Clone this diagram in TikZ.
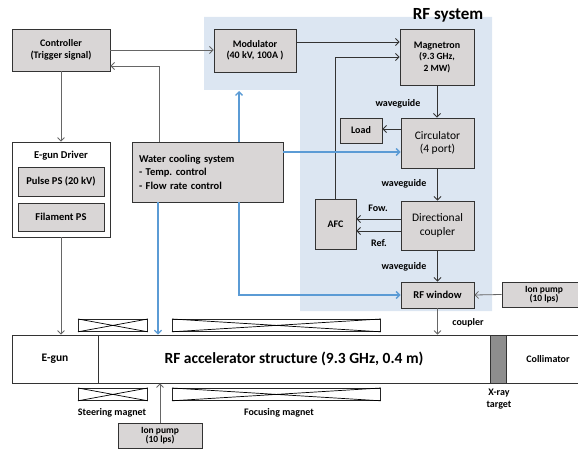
\documentclass[tikz,border=0pt]{standalone}
\usepackage{fontspec}
\setmainfont{Carlito}
\usetikzlibrary{arrows.meta}
\frenchspacing

\definecolor{boxgray}{HTML}{D9D6D6}
\definecolor{rfblue}{HTML}{DCE6F2}
\definecolor{coolblue}{HTML}{5B9BD5}
\definecolor{lineg}{HTML}{666666}
\definecolor{targetg}{HTML}{8E8E8E}

\tikzset{
  blk/.style 2 args={draw=black!80, fill=boxgray, line width=0.9pt, inner sep=1pt,
    align=center, minimum width=#1pt, minimum height=#2pt,
    font=\bfseries\fontsize{10}{11.5}\selectfont},
  wht/.style 2 args={draw=black!80, fill=white, line width=0.8pt, inner sep=1pt,
    align=center, minimum width=#1pt, minimum height=#2pt,
    font=\bfseries\fontsize{10.5}{12}\selectfont},
  magnet/.style={draw=black!85, fill=white, line width=0.8pt, minimum height=12pt, inner sep=0pt},
  lbl/.style={font=\bfseries\fontsize{10}{11}\selectfont, align=center, inner sep=0pt},
  arr/.style={-{Straight Barb[length=3.5pt,width=7pt]}, line width=0.8pt, draw=black!80},
  garr/.style={arr, draw=lineg},
  barr/.style={-{Straight Barb[length=3.5pt,width=7pt]}, line width=1.3pt, draw=coolblue},
}

\begin{document}
\begin{tikzpicture}[x=1pt,y=-1pt]
\useasboundingbox (0,0) rectangle (578,449);
% fons RF system
\fill[rfblue] (204,17) -- (492,17) -- (492,311) -- (300,311) -- (300,90) -- (204,90) -- cycle;
\node[anchor=base, inner sep=0pt, font=\bfseries\fontsize{17}{19}\selectfont] (rftitle) at (448,20) {RF system};

% blocs
\node[blk={98}{42}] (ctrl) at (61,50) {Controller\\(Trigger signal)};
\node[blk={82}{43}] (mod) at (255,50.5) {Modulator\\(40 kV, 100A )};
\node[blk={74}{56}] (mag) at (437,57) {Magnetron\\{\fontsize{9.5}{11}\selectfont (9.3 GHz,}\\{\fontsize{9.5}{11}\selectfont 2 MW)}};
\node[blk={73}{50}, font=\fontsize{11.5}{13.5}\selectfont] (circ) at (437.5,143) {Circulator\\(4 port)};
\node[blk={42}{25}] (load) at (361,130.5) {Load};
\node[blk={73}{49}, font=\fontsize{11.5}{13.5}\selectfont] (dc) at (437.5,225.5) {Directional\\coupler};
\node[blk={41}{50}] (afc) at (335.5,224) {AFC};
\node[blk={73}{26}, font=\bfseries\fontsize{10.5}{12}\selectfont] (rfw) at (437.5,295) {RF window};
\node[blk={84}{25}, font=\bfseries\fontsize{9.5}{9.5}\selectfont] (ionr) at (544,294.5) {Ion pump\\(10 lps)};
\node[blk={84}{25}, font=\bfseries\fontsize{9.5}{9.5}\selectfont] (ionb) at (160,435.5) {Ion pump\\(10 lps)};
\node[blk={151}{60}, align=left, text width=137pt, font=\bfseries\fontsize{10.5}{13.5}\selectfont] (wcs) at (207.5,172)
  {Water cooling system\\- Temp. control\\- Flow rate control};

% E-gun driver
\node[wht={98}{95}] (drv) at (61,189.5) {};
\node[lbl, font=\bfseries\fontsize{10.5}{12}\selectfont] (drvt) at (61,156) {E-gun Driver};
\node[blk={86}{29}, font=\bfseries\fontsize{10.5}{12}\selectfont] (pulse) at (61,181.5) {Pulse PS (20 kV)};
\node[blk={86}{28}, font=\bfseries\fontsize{10.5}{12}\selectfont] (fil) at (61,217) {Filament PS};

% estructura acceleradora
\node[wht={86}{48}, font=\bfseries\fontsize{11.5}{13}\selectfont] (egun) at (55,359) {E-gun};
\node[wht={392}{48}, font=\bfseries\fontsize{15.5}{17}\selectfont] (acc) at (294,359) {RF accelerator structure (9.3 GHz, 0.4 m)};
\node[wht={16}{48}, fill=targetg] (tgt) at (498,359) {};
\node[wht={84}{48}, font=\bfseries\fontsize{10}{12}\selectfont] (coll) at (548,359) {Collimator};

% imants
\foreach \nm/\x/\y/\w in {stu/78/319/69, fcu/172/319/208, stl/78/388/69, fcl/172/388/208} {
  \node[magnet, minimum width=\w pt, anchor=north west] (\nm) at (\x,\y) {};
  \draw[line width=0.7pt] (\nm.north west) -- (\nm.south east) (\nm.south west) -- (\nm.north east);
}

% etiquetes
\node[lbl] (wg1) at (398,104) {waveguide};
\node[lbl] (wg2) at (404,184) {waveguide};
\node[lbl] (wg3) at (404,267) {waveguide};
\node[lbl] (fow) at (378,208) {Fow.};
\node[lbl] (ref) at (379,243) {Ref.};
\node[lbl] (cpl) at (468,323) {coupler};
\node[lbl] (stm) at (112,413) {Steering magnet};
\node[lbl] (fcm) at (279,413) {Focusing magnet};
\node[lbl, font=\bfseries\fontsize{10}{12.5}\selectfont] (xrt) at (499,399) {X-ray\\target};

% connexions
\draw[garr] (ctrl.east) -- (ctrl.east -| mod.west);
\draw[garr] (wcs.north -| 159,0) |- (ctrl.east |- 0,66);
\draw[garr] (ctrl.south) -- (drv.north);
\draw[garr] (drv.south) -- (drv.south |- egun.north);
\draw[arr] (mod.east |- 0,42) -- (mag.west |- 0,42);
\draw[arr] (afc.north) |- (mag.west |- 0,57);
\draw[arr] (mag.south) -- (mag.south |- circ.north);
\draw[arr] (circ.west |- 0,129) -- (load.east |- 0,129);
\draw[arr] (circ.south) -- (circ.south |- dc.north);
\draw[arr] (dc.west |- 0,219) -- (afc.east |- 0,219);
\draw[arr] (dc.west |- 0,231) -- (afc.east |- 0,231);
\draw[arr] (dc.south) -- (rfw.north);
\draw[garr] (ionr.west) -- (rfw.east);
\draw[garr] (rfw.south) -- (rfw.south |- acc.north);
\draw[garr] (ionb.north) -- (ionb.north |- acc.south);

% refrigeracio
\coordinate (cool) at (239,91);
\draw[barr] (wcs.north -| cool) -- (cool);
\draw[barr] (wcs.east |- 0,152) -- (circ.west |- 0,152);
\draw[barr] (wcs.south -| cool) |- (rfw.west);
\draw[barr] (wcs.south -| 158,0) -- (acc.north -| 158,0);
\end{tikzpicture}
\end{document}
